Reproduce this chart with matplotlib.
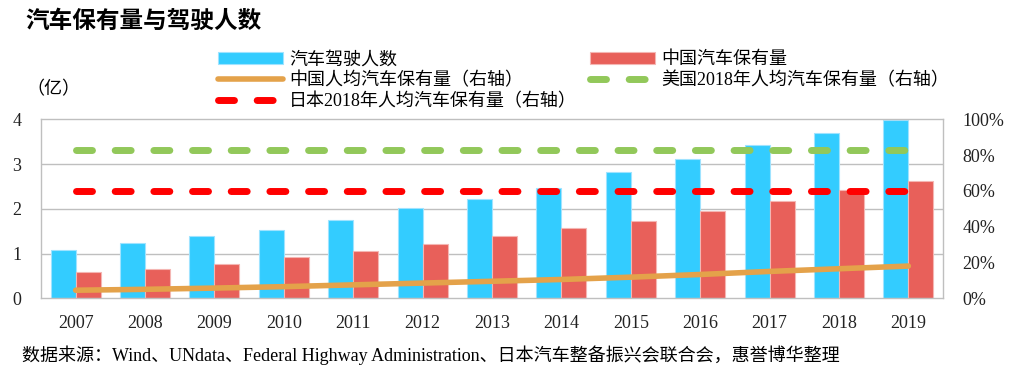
import numpy as np
import matplotlib
matplotlib.use("Agg")
import matplotlib.pyplot as plt
from matplotlib.ticker import FuncFormatter

plt.rcParams['font.family'] = ['Liberation Serif', 'Noto Sans CJK SC', 'DejaVu Sans']

years = ['2007', '2008', '2009', '2010', '2011', '2012', '2013',
         '2014', '2015', '2016', '2017', '2018', '2019']
drivers = [1.08, 1.23, 1.39, 1.53, 1.75, 2.01, 2.21, 2.47, 2.82, 3.11, 3.43, 3.70, 3.98]
cars_cn = [0.58, 0.65, 0.77, 0.92, 1.06, 1.21, 1.39, 1.56, 1.73, 1.95, 2.18, 2.42, 2.62]
per_capita_cn = [0.045, 0.050, 0.057, 0.065, 0.075, 0.085, 0.095,
                 0.105, 0.118, 0.133, 0.150, 0.165, 0.180]
us_2018 = 0.83
jp_2018 = 0.60

blue = '#33CCFF'
red = '#E8605A'
orange = '#E4A24A'
green = '#92C85A'

fig = plt.figure(figsize=(10.17, 3.77), dpi=100)
ax = fig.add_axes([0.0403, 0.2088, 0.887, 0.4748])
ax2 = ax.twinx()

x = np.arange(len(years))
w = 0.36
b1 = ax.bar(x - w / 2, drivers, w, color=blue, edgecolor='#9FE3FF', linewidth=0.8,
            label='汽车驾驶人数', zorder=2)
b2 = ax.bar(x + w / 2, cars_cn, w, color=red, edgecolor='#F4B6B3', linewidth=0.8,
            label='中国汽车保有量', zorder=2)

ax.set_xlim(-0.5, len(years) - 0.5)
ax.set_ylim(0, 4)
ax.set_yticks([0, 1, 2, 3, 4])
ax.set_xticks(x)
ax.set_xticklabels(years)
ax.tick_params(length=0, labelsize=13, colors='#222222')
ax.tick_params(axis='x', pad=12)
ax.tick_params(axis='y', pad=14)
for yv in [1, 2, 3]:
    ax.axhline(yv, color='#BFBFBF', lw=1, zorder=1)
for s in ax.spines.values():
    s.set_color('#BFBFBF')
    s.set_linewidth(1)

l1, = ax2.plot(x, per_capita_cn, color=orange, lw=4, solid_capstyle='round',
               label='中国人均汽车保有量（右轴）', zorder=3)
l2, = ax2.plot(x, [us_2018] * len(x), color=green, lw=5, dash_capstyle='round',
               linestyle=(0, (2.3, 3.27)), label='美国2018年人均汽车保有量（右轴）')
l3, = ax2.plot(x, [jp_2018] * len(x), color='#FF0000', lw=5, dash_capstyle='round',
               linestyle=(0, (2.3, 3.27)), label='日本2018年人均汽车保有量（右轴）')
ax2.set_ylim(0, 1)
ax2.set_yticks(np.arange(0, 1.01, 0.2))
ax2.yaxis.set_major_formatter(FuncFormatter(lambda v, p: f'{v * 100:.0f}%'))
ax2.tick_params(length=0, labelsize=13, colors='#222222', pad=14)
for s in ax2.spines.values():
    s.set_visible(False)

fig.legend([b1, l1, l3, b2, l2],
           [h.get_label() for h in [b1, l1, l3, b2, l2]],
           ncol=2, loc='upper left', bbox_to_anchor=(0.205, 0.888),
           frameon=False, fontsize=13, handlelength=3.6, handletextpad=0.35,
           labelspacing=0.2, columnspacing=0.75, borderpad=0)

fig.text(0.025, 0.942, '汽车保有量与驾驶人数', fontsize=17, fontweight='bold',
         va='center', ha='left')
fig.text(0.026, 0.761, '（亿）', fontsize=13, va='center', ha='left')
fig.text(0.022, 0.058,
         '数据来源：Wind、UNdata、Federal Highway Administration、日本汽车整备振兴会联合会，惠誉博华整理',
         fontsize=13, va='center', ha='left')

fig.savefig('out.png', dpi=100)
